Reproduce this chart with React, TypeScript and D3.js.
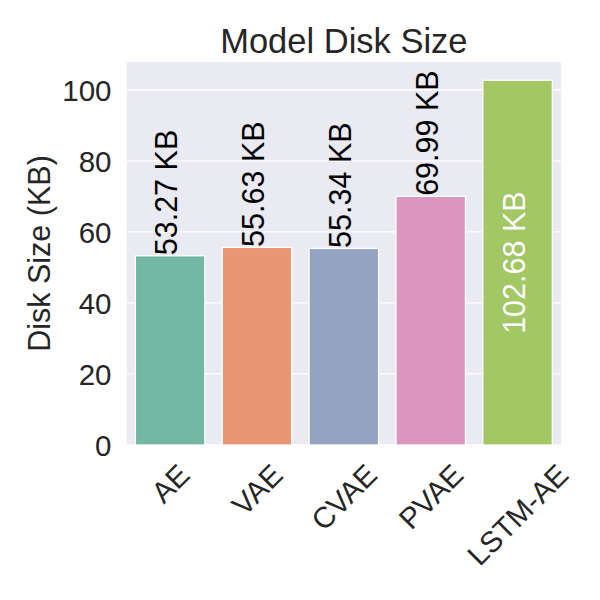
import React from "react";
import * as d3 from "d3";

const models = ["AE", "VAE", "CVAE", "PVAE", "LSTM-AE"];
const diskSizes = [53.27, 55.63, 55.34, 69.99, 102.68];
const barColors = ["#72b7a1", "#e99675", "#95a3c3", "#db96c0", "#a2c764"];
const yTicks = [0, 20, 40, 60, 80, 100];
const title = "Model Disk Size";
const yLabel = "Disk Size (KB)";

const FONT = '"Liberation Sans", Arial, "DejaVu Sans", sans-serif';
const W = 600;
const H = 600;
const left = 126.7;
const right = 561;
const top = 62;
const bottom = 445;
const tickFs = 29.5;
const labelFs = 30.5;
const titleFs = 34.5;

function measure(text: string, fs: number): number {
  const c = document.createElement("canvas").getContext("2d");
  if (!c) return text.length * fs * 0.6;
  c.font = `${fs}px "Liberation Sans", Arial, sans-serif`;
  return c.measureText(text).width;
}

export default function App() {
  const x = d3
    .scaleBand<string>()
    .domain(models)
    .range([left, right])
    .paddingInner(0.2)
    .paddingOuter(0.1);
  const yMax = d3.max(diskSizes)! * 1.05;
  const y = d3.scaleLinear().domain([0, yMax]).range([bottom, top]);
  const maxVal = d3.max(diskSizes)!;

  return (
    <svg
      width={W}
      height={H}
      style={{ position: "absolute", left: 0, top: 0, background: "#fff" }}
      fontFamily={FONT}
    >
      <rect x={left} y={top} width={right - left} height={bottom - top} fill="#eaeaf2" />
      {yTicks.map((t) => (
        <line
          key={"g" + t}
          x1={left}
          x2={right}
          y1={y(t)}
          y2={y(t)}
          stroke="#ffffff"
          strokeWidth={1.3}
        />
      ))}
      {models.map((m, i) => (
        <rect
          key={"b" + m}
          x={x(m)!}
          y={y(diskSizes[i])}
          width={x.bandwidth()}
          height={bottom - y(diskSizes[i])}
          fill={barColors[i]}
          stroke="#ffffff"
          strokeWidth={1.3}
        />
      ))}
      {models.map((m, i) => {
        const cx = x(m)! + x.bandwidth() / 2;
        const v = diskSizes[i];
        const txt = `${v.toFixed(2)} KB`;
        const inside = v === maxVal;
        if (inside) {
          const ym = (y(v) + y(0)) / 2;
          return (
            <text
              key={"l" + m}
              transform={`translate(${cx + 7.5},${ym}) rotate(-90)`}
              textAnchor="middle"
              fontSize={labelFs}
              fill="#ffffff"
            >
              {txt}
            </text>
          );
        }
        return (
          <text
            key={"l" + m}
            transform={`translate(${cx + 7},${y(v) - 0.5}) rotate(-90)`}
            textAnchor="start"
            fontSize={labelFs}
            fill="#000000"
          >
            {txt}
          </text>
        );
      })}
      {yTicks.map((t) => (
        <text
          key={"yt" + t}
          x={111.5}
          y={y(t) + 11}
          textAnchor="end"
          fontSize={tickFs}
          fill="#262626"
        >
          {t}
        </text>
      ))}
      {models.map((m) => {
        const cx = x(m)! + x.bandwidth() / 2;
        const w = measure(m, tickFs);
        const cy = 462 + (w + 0.716 * tickFs) * 0.3536;
        return (
          <text
            key={"xt" + m}
            transform={`translate(${cx},${cy}) rotate(-45)`}
            textAnchor="middle"
            dy={0.358 * tickFs}
            fontSize={tickFs}
            fill="#262626"
          >
            {m}
          </text>
        );
      })}
      <text
        transform={`translate(50,${(top + bottom) / 2}) rotate(-90)`}
        textAnchor="middle"
        fontSize={labelFs}
        fill="#262626"
      >
        {yLabel}
      </text>
      <text
        x={(left + right) / 2}
        y={52.5}
        textAnchor="middle"
        fontSize={titleFs}
        fill="#262626"
      >
        {title}
      </text>
    </svg>
  );
}
